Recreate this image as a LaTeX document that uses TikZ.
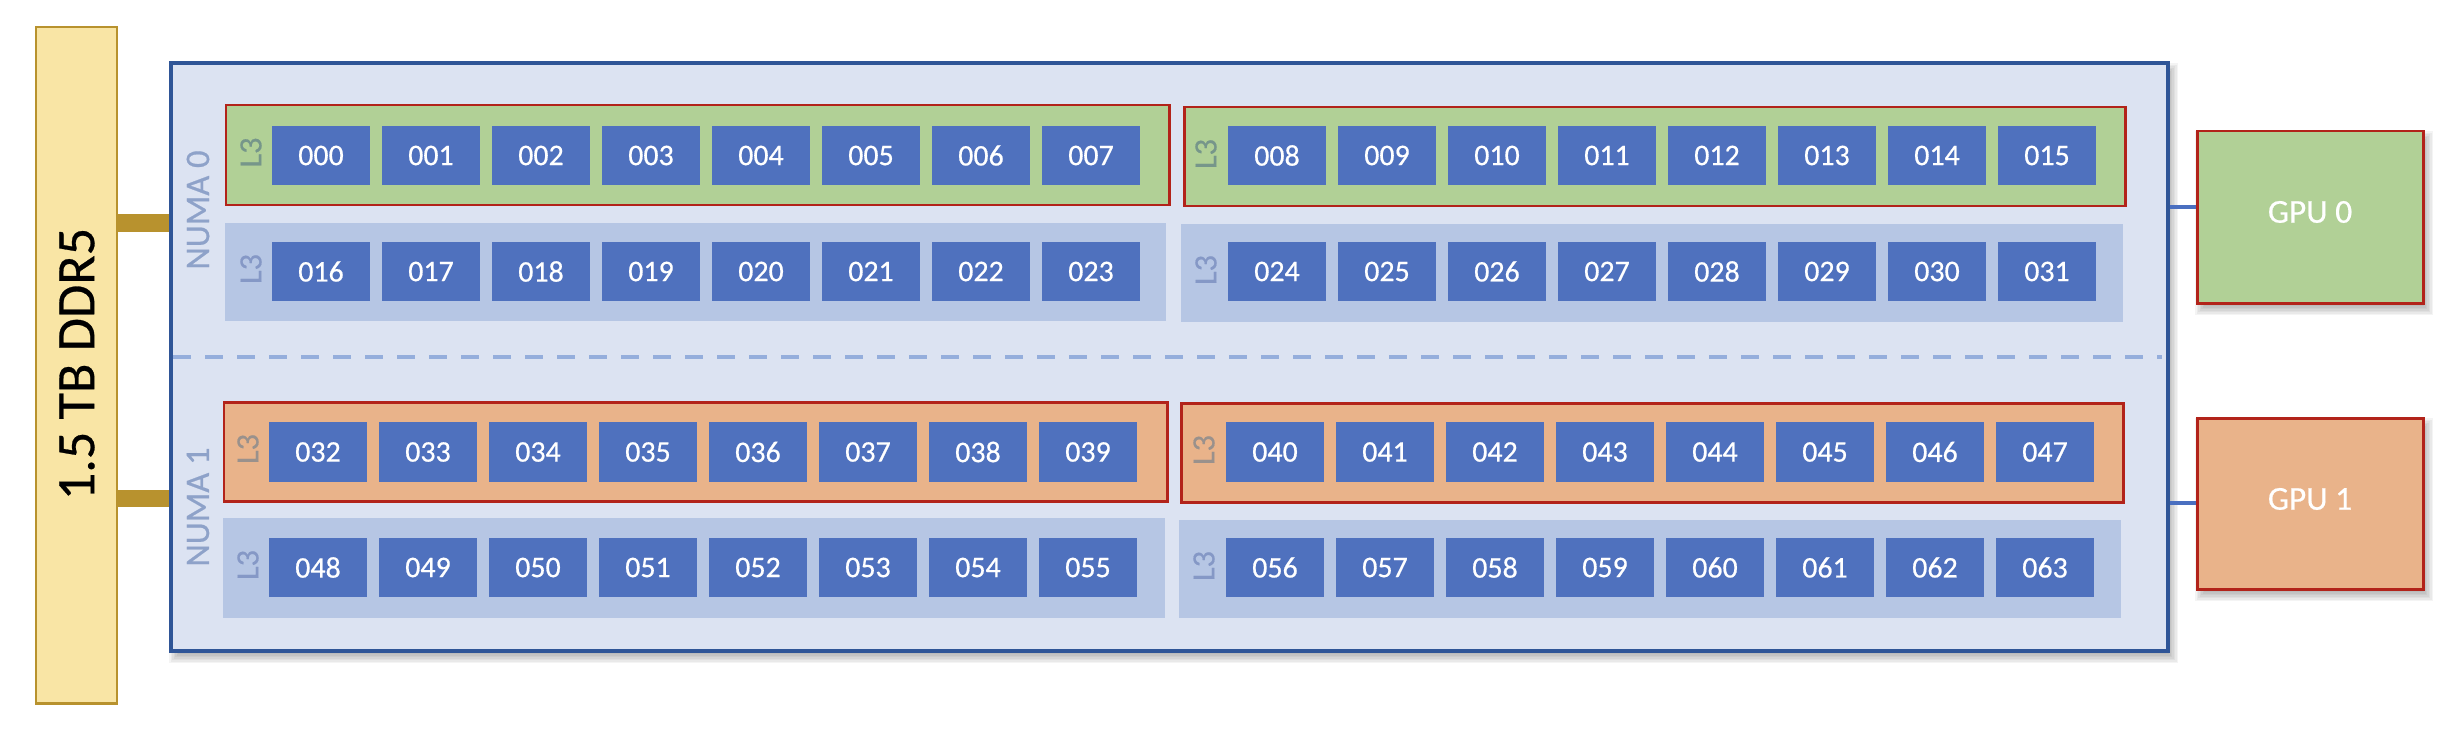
\documentclass[tikz,border=0pt]{standalone}
\usepackage{fontspec}
\setmainfont{Carlito}[FakeBold=0.5]
\definecolor{ddrfill}{HTML}{F9E5A5}
\definecolor{ddrline}{HTML}{B8922E}
\definecolor{mainfill}{HTML}{DCE3F2}
\definecolor{mainline}{HTML}{2F5597}
\definecolor{greenfill}{HTML}{B1D096}
\definecolor{orangefill}{HTML}{E9B38A}
\definecolor{lightfill}{HTML}{B6C6E4}
\definecolor{redline}{HTML}{B2231A}
\definecolor{coreblue}{HTML}{4F71BE}
\definecolor{dashblue}{HTML}{95AEDC}
\definecolor{linkblue}{HTML}{4A6FC0}
\definecolor{numatxt}{HTML}{8EA2C9}
\definecolor{lthreeA}{HTML}{76968A}
\definecolor{lthreeB}{HTML}{8598C6}
\definecolor{lthreeC}{HTML}{9A918C}
\newcommand\rbox[6]{\node[#1, minimum width={(#5-#3)*0.01cm}, minimum height={(#6-#4)*0.01cm}] (#2) at ({(#3+#5)/2},{(#4+#6)/2}) {};}
\newcommand\softshadow[4]{\foreach \k in {0,...,7}{\fill[black,opacity=0.045] ({#1-2+1.5*\k},{#2+1.5*\k}) rectangle ({#3+10-1.5*\k},{#4+12-1.5*\k});}}
\tikzset{
 ddrbox/.style={draw=ddrline, fill=ddrfill, line width=0.85pt, inner sep=0},
 mainbox/.style={draw=mainline, fill=mainfill, line width=0.9pt, inner sep=0},
 l3hot/.style={draw=redline, line width=0.85pt, inner sep=0},
 l3green/.style={l3hot, fill=greenfill},
 l3orange/.style={l3hot, fill=orangefill},
 l3plain/.style={fill=lightfill, inner sep=0},
 core/.style={fill=coreblue, text=white, inner sep=0, minimum width=0.98cm, minimum height=0.59cm, font=\fontsize{8.5}{10}\selectfont},
 ltlabel/.style={rotate=90, font=\fontsize{9.2}{10}\selectfont, inner sep=0},
 numalabel/.style={rotate=90, text=numatxt, font=\fontsize{9.8}{11}\selectfont, inner sep=0},
 stub/.style={draw=ddrline, line width=5pt},
 gpulink/.style={draw=linkblue, line width=1.15pt},
 numadash/.style={draw=dashblue, line width=1.4pt, dash pattern=on 5.1pt off 4pt},
 gputext/.style={text=white, font=\fontsize{9.5}{11}\selectfont, inner sep=0},
}
\begin{document}
\begin{tikzpicture}[x=0.01cm,y=-0.01cm]
\useasboundingbox (0,0) rectangle (2462,730);
% shadows
\softshadow{171}{63}{2168}{651}
\softshadow{2197}{131}{2423}{303}
\softshadow{2197}{418}{2423}{589}
% DDR memory
\coordinate (s1) at (0,223);
\coordinate (s2) at (0,498.5);
\rbox{ddrbox}{ddr}{36}{27}{117}{703}
\node[rotate=90, font=\fontsize{15.4}{18}\selectfont, inner sep=0] (ddrlabel) at (77,364) {1.5 TB DDR5};
% main box
\rbox{mainbox}{main}{171}{63}{2168}{651}
\draw[stub] (ddr.east |- s1) -- (main.west |- s1);
\draw[stub] (ddr.east |- s2) -- (main.west |- s2);
\rbox{mainbox}{main}{171}{63}{2168}{651}
\coordinate (dl) at (173,357);
\coordinate (dr) at (2162,357);
\draw[numadash] (dl) -- (dr);
\node[numalabel] (numa0) at (198,210) {NUMA 0};
\node[numalabel] (numa1) at (198,507) {NUMA 1};
% L3 boxes
\rbox{l3green}{la0}{226}{105}{1169}{205}
\rbox{l3green}{lb0}{1184}{107}{2125}{206}
\rbox{l3plain}{la1}{225}{223}{1166}{321}
\rbox{l3plain}{lb1}{1181}{224}{2123}{322}
\rbox{l3orange}{la2}{224}{402}{1167}{501}
\rbox{l3orange}{lb2}{1181}{403}{2123}{502}
\rbox{l3plain}{la3}{223}{518}{1165}{618}
\rbox{l3plain}{lb3}{1179}{520}{2121}{618}
\node[ltlabel, text=lthreeA] (ta0) at (251,152.5) {L3};
\node[ltlabel, text=lthreeA] (tb0) at (1206,154) {L3};
\node[ltlabel, text=lthreeB] (ta1) at (251,269) {L3};
\node[ltlabel, text=lthreeB] (tb1) at (1206,270) {L3};
\node[ltlabel, text=lthreeC] (ta2) at (248,449) {L3};
\node[ltlabel, text=lthreeC] (tb2) at (1204,450) {L3};
\node[ltlabel, text=lthreeB] (ta3) at (248,565) {L3};
\node[ltlabel, text=lthreeB] (tb3) at (1204,566) {L3};
% cores
\foreach \cy/\xl/\xr/\base in {155.5/272/1228/0, 271.5/272/1228/16, 452/269/1226/32, 567.5/269/1226/48}{
  \foreach \i in {0,...,7}{
    \pgfmathtruncatemacro\na{\base+\i}
    \pgfmathtruncatemacro\nb{\base+8+\i}
    \node[core] (c\na) at ({\xl+49+110*\i},\cy) {\ifnum\na<10 00\else 0\fi\na};
    \node[core] (c\nb) at ({\xr+49+110*\i},\cy) {\ifnum\nb<10 00\else 0\fi\nb};
  }
}
% GPUs
\rbox{l3green}{gpu0}{2197}{131}{2423}{303}
\rbox{l3orange}{gpu1}{2197}{418}{2423}{589}
\node[gputext] (gpu0label) at (2310,212) {GPU 0};
\node[gputext] (gpu1label) at (2310,499) {GPU 1};
\coordinate (g0) at (0,207);
\coordinate (g1) at (0,503);
\draw[gpulink] (main.east |- g0) -- (gpu0.west |- g0);
\draw[gpulink] (main.east |- g1) -- (gpu1.west |- g1);
\end{tikzpicture}
\end{document}
